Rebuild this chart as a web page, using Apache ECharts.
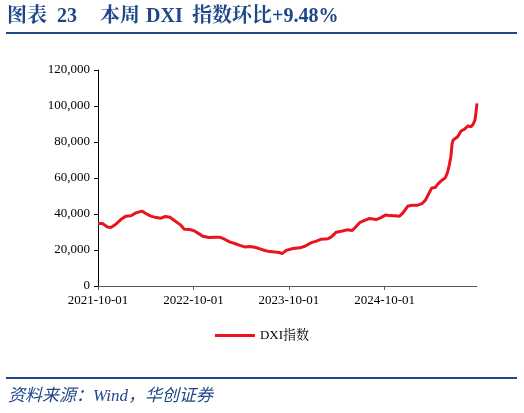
<!DOCTYPE html>
<html><head><meta charset="utf-8">
<script src="https://cdn.jsdelivr.net/npm/echarts@6/dist/echarts.min.js"></script>
<style>html,body{margin:0;padding:0;background:#fff}#c{width:524px;height:413px}</style>
</head><body><div id="c"></div>
<script>
var dates = ['2021-10-01','2021-10-18','2021-11-06','2021-11-19','2021-12-08','2021-12-27','2022-01-15','2022-02-04','2022-02-23','2022-03-18','2022-04-02','2022-04-21','2022-05-11','2022-05-30','2022-06-15','2022-07-03','2022-07-24','2022-08-11','2022-08-27','2022-09-16','2022-10-05','2022-10-21','2022-11-06','2022-11-29','2022-12-21','2023-01-09','2023-01-28','2023-02-16','2023-03-08','2023-03-27','2023-04-15','2023-05-04','2023-05-23','2023-06-09','2023-07-01','2023-07-20','2023-08-08','2023-08-25','2023-09-05','2023-09-22','2023-10-17','2023-11-12','2023-12-01','2023-12-26','2024-01-14','2024-02-02','2024-02-28','2024-03-11','2024-03-30','2024-04-18','2024-05-10','2024-05-30','2024-06-12','2024-06-27','2024-07-16','2024-08-04','2024-08-29','2024-09-17','2024-10-05','2024-10-20','2024-11-08','2024-11-27','2024-12-10','2024-12-29','2025-01-17','2025-02-05','2025-02-21','2025-03-06','2025-03-19','2025-03-30','2025-04-12','2025-04-22','2025-05-08','2025-05-21','2025-05-30','2025-06-05','2025-06-11','2025-06-16','2025-06-20','2025-07-07','2025-07-20','2025-08-01','2025-08-16','2025-08-27','2025-09-05','2025-09-12','2025-09-19'];
var dxi = [34700,34700,32800,32500,34300,36900,38800,39000,40600,41600,40300,38800,38000,37700,38600,38200,36000,34100,31500,31400,30600,29100,27600,26900,27100,27100,26000,24500,23600,22600,21700,21900,21500,20800,19700,19100,18900,18600,18000,19900,20800,21200,22100,24100,24900,26000,26300,27300,29900,30400,31200,30800,32800,35200,36500,37500,36900,38000,39500,39100,39000,38800,40600,44500,44900,44900,45800,47700,51400,54500,54700,56600,58800,60100,63500,67200,71800,79200,81100,82900,86100,87000,88900,88500,90000,92700,101500];
var xTicks = ['2021-10-01','2022-10-01','2023-10-01','2024-10-01'];
var yTicks = [0,20000,40000,60000,80000,100000,120000];
var seriesName = 'DXI指数';
var titleParts = ['图表','23','本周','DXI','指数环比+9.48%'];
var sourceText = '资料来源：Wind，华创证券';

var serif = '"Liberation Serif","Noto Serif CJK SC","Noto Sans CJK SC",serif';
var blue = '#1f4788';
function ts(d){var p=d.split('-');return Date.UTC(+p[0],+p[1]-1,+p[2]);}
function fmt(v){var d=new Date(v);function p(n){return (n<10?'0':'')+n;}return d.getUTCFullYear()+'-'+p(d.getUTCMonth()+1)+'-'+p(d.getUTCDate());}
var chart = echarts.init(document.getElementById('c'), null, {renderer:'canvas'});
var data = dates.map(function(d,i){return [ts(d), dxi[i]];});
var tickTs = xTicks.map(ts);
var titleX = [7,57,100,146,192];
var graphics = titleParts.map(function(t,i){
  return {type:'text',left:titleX[i],top:7,style:{text:t,fill:blue,font:'bold 20px '+serif}};
});
graphics.push(
  {type:'rect',shape:{x:6,y:32,width:511,height:2},style:{fill:blue}},
  {type:'rect',shape:{x:6,y:377,width:511,height:2},style:{fill:blue}},
  {type:'text',left:8,top:388,style:{text:sourceText,fill:blue,font:'italic 17px "Liberation Serif","Noto Sans CJK SC",serif'}}
);
chart.setOption({
  animation:false,
  grid:{left:98,right:47,top:70,bottom:127,containLabel:false},
  xAxis:{
    type:'value',
    min:tickTs[0],
    max:ts(dates[dates.length-1]),
    axisLine:{show:true,lineStyle:{color:'#595959',width:1}},
    axisTick:{show:true,length:4,lineStyle:{color:'#595959'},customValues:tickTs},
    axisLabel:{customValues:tickTs,color:'#000',fontFamily:serif,fontSize:13,margin:8,formatter:fmt},
    splitLine:{show:false}
  },
  yAxis:{
    type:'value',min:0,max:120000,interval:20000,
    axisLine:{show:true,lineStyle:{color:'#000',width:1}},
    axisTick:{show:true,length:4,lineStyle:{color:'#000'}},
    axisLabel:{color:'#000',fontFamily:serif,fontSize:13,margin:8,
      formatter:function(v){return v.toLocaleString('en-US');}},
    splitLine:{show:false}
  },
  legend:{
    data:[seriesName],bottom:66,left:'center',
    icon:'rect',itemWidth:40,itemHeight:3,itemGap:10,
    textStyle:{color:'#000',fontFamily:serif,fontSize:13}
  },
  series:[{
    name:seriesName,type:'line',data:data,showSymbol:false,symbol:'none',
    lineStyle:{color:'#e8141e',width:3},itemStyle:{color:'#e8141e'}
  }],
  graphic:graphics
});
</script></body></html>
